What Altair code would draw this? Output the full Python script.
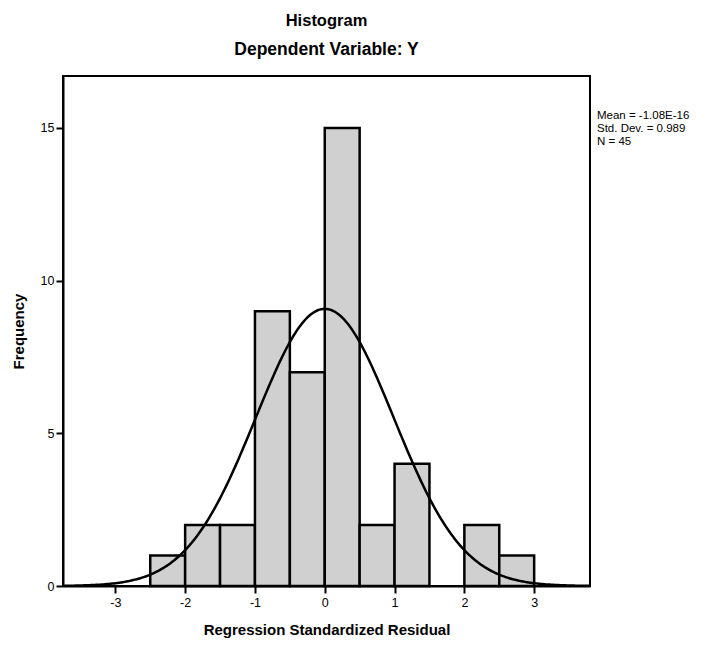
import altair as alt
import pandas as pd
import numpy as np

# Histogram bins (width 0.5) and counts
bin_start = [-2.5, -2.0, -1.5, -1.0, -0.5, 0.0, 0.5, 1.0, 1.5, 2.0, 2.5]
bin_end = [-2.0, -1.5, -1.0, -0.5, 0.0, 0.5, 1.0, 1.5, 2.0, 2.5, 3.0]
counts = [1, 2, 2, 9, 7, 15, 2, 4, 0, 2, 1]

# Summary statistics shown on the chart
mean = -1.08e-16
std_dev = 0.989
n_obs = 45
bin_width = 0.5
stats_lines = ["Mean = -1.08E-16", "Std. Dev. = 0.989", "N = 45"]

x_ticks = [-3, -2, -1, 0, 1, 2, 3]
y_ticks = [0, 5, 10, 15]
x_domain = [-3.75, 3.8]
y_domain = [0, 16.7]

bars = pd.DataFrame({"start": bin_start, "end": bin_end, "count": counts})
bars = bars[bars["count"] > 0]

# Normal curve implied by the stated mean / std. dev. / N
xs = np.linspace(x_domain[0], x_domain[1], 301)
ys = n_obs * bin_width * np.exp(-0.5 * ((xs - mean) / std_dev) ** 2) / (std_dev * np.sqrt(2 * np.pi))
curve = pd.DataFrame({"x": xs, "y": ys})

FONT = "Liberation Sans"

x_scale = alt.Scale(domain=x_domain, nice=False, zero=False)
y_scale = alt.Scale(domain=y_domain, nice=False)

bar_layer = alt.Chart(bars).mark_rect(
    fill="#d0d0d0", stroke="black", strokeWidth=2.5
).encode(
    x=alt.X("start:Q", scale=x_scale,
            axis=alt.Axis(values=x_ticks, title="Regression Standardized Residual",
                          grid=False, labelExpr="'' + datum.value", tickSize=7,
                          labelPadding=3, titlePadding=14)),
    x2="end:Q",
    y=alt.Y("count:Q", scale=y_scale,
            axis=alt.Axis(values=y_ticks, title="Frequency", grid=False,
                          tickSize=7, labelPadding=2, titlePadding=14)),
    y2=alt.datum(0),
)

line_layer = alt.Chart(curve).mark_line(color="black", strokeWidth=2.5).encode(
    x=alt.X("x:Q", scale=x_scale),
    y=alt.Y("y:Q", scale=y_scale),
)

stats_layer = alt.Chart(pd.DataFrame({"t": ["\n".join(stats_lines)]})).mark_text(
    align="left", baseline="top", font=FONT, fontSize=11.5, lineBreak="\n",
    lineHeight=13, color="black"
).encode(
    text="t:N",
    x=alt.value(534),
    y=alt.value(34),
)

chart = alt.layer(bar_layer, line_layer, stats_layer).properties(
    width=527,
    height=510,
    title=alt.TitleParams(
        text="Histogram",
        subtitle="Dependent Variable: Y",
        font=FONT, fontSize=16.5, fontWeight="bold",
        subtitleFont=FONT, subtitleFontSize=17.5, subtitleFontWeight="bold",
        subtitleColor="black", color="black",
        subtitlePadding=11, offset=18, anchor="middle",
    ),
    autosize=alt.AutoSizeParams(type="none"),
    padding={"left": 55, "top": 68, "right": 117, "bottom": 60},
).configure_view(
    stroke="black", strokeWidth=2
).configure_axis(
    domainColor="black", domainWidth=2, tickColor="black", tickWidth=2,
    labelColor="black", labelFont=FONT, labelFontSize=12.5,
    titleColor="black", titleFont=FONT, titleFontSize=15, titleFontWeight="bold",
)

chart.save("out.html", embed_options={"renderer": "svg", "actions": False})
